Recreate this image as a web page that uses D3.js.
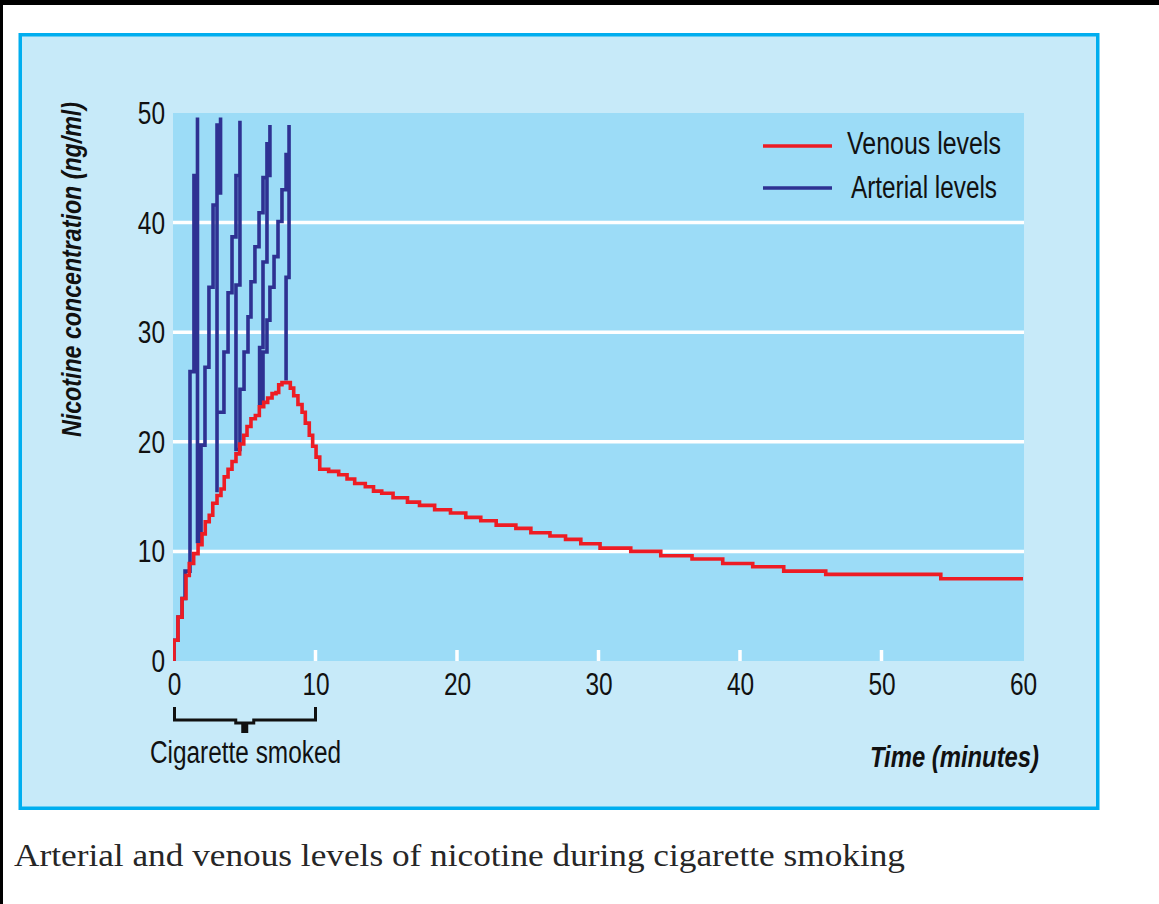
<!DOCTYPE html>
<html>
<head>
<meta charset="utf-8">
<script src="https://cdn.jsdelivr.net/npm/d3@7"></script>
<style>
  html, body { margin: 0; padding: 0; background: #ffffff; }
  svg { display: block; }
  .narrow { font-family: "Liberation Sans Narrow", "Arial Narrow", "Liberation Sans", Arial, sans-serif; }
</style>
</head>
<body>
<svg id="chart" width="1159" height="904"></svg>
<script>
// Venous nicotine level (ng/ml); each level holds from its start time (minutes) to the next one
const venousTime = [0, 0, 0.28, 0.57, 0.85, 1.08, 1.39, 1.70, 1.98, 2.21, 2.49, 2.74, 3.04, 3.32, 3.55, 3.82, 4.10, 4.38, 4.64, 4.93, 5.16, 5.44, 5.75, 6.03, 6.34, 6.62, 6.93, 7.21, 7.40, 7.63, 8.22, 8.46, 8.76, 9.05, 9.28, 9.56, 9.80, 10.04, 10.30, 10.93, 11.64, 12.23, 12.77, 13.52, 14.10, 14.68, 15.48, 16.50, 17.35, 18.42, 19.54, 20.62, 21.68, 22.77, 24.16, 25.22, 26.57, 27.67, 28.75, 30.11, 32.28, 34.40, 36.61, 38.78, 40.90, 43.09, 46.06, 54.19, 60];
const venousConc = [0, 1.9, 4.0, 5.7, 7.8, 8.9, 9.8, 10.6, 11.6, 12.7, 13.3, 14.4, 15.1, 15.7, 16.8, 17.5, 18.2, 18.9, 19.8, 20.6, 21.4, 22.1, 22.4, 23.2, 23.6, 24.0, 24.4, 24.5, 25.2, 25.4, 24.9, 24.2, 23.4, 22.7, 21.7, 20.6, 19.6, 18.6, 17.5, 17.3, 17.0, 16.6, 16.2, 15.9, 15.5, 15.3, 14.9, 14.5, 14.2, 13.8, 13.5, 13.1, 12.8, 12.4, 12.1, 11.7, 11.4, 11.1, 10.7, 10.3, 10.0, 9.6, 9.3, 8.9, 8.6, 8.2, 7.9, 7.5, 7.5];

// Arterial nicotine level (ng/ml): the trace's corner points in drawing order, one spike per puff
const arterialTime = [0, 0, 0.28, 0.28, 0.57, 0.57, 0.78, 0.78, 1.13, 1.13, 1.41, 1.41, 1.66, 1.66, 1.66, 1.91, 1.91, 2.19, 2.19, 2.47, 2.47, 2.76, 2.76, 3.04, 3.04, 3.29, 3.29, 3.29, 3.04, 3.04, 3.04, 3.53, 3.53, 3.82, 3.82, 4.10, 4.10, 4.38, 4.38, 4.66, 4.66, 4.66, 4.38, 4.38, 4.66, 4.66, 4.95, 4.95, 5.23, 5.23, 5.44, 5.44, 5.72, 5.72, 6.01, 6.01, 6.29, 6.29, 6.57, 6.57, 6.78, 6.78, 6.78, 6.57, 6.57, 6.29, 6.29, 6.05, 6.05, 6.29, 6.29, 6.57, 6.57, 6.78, 6.78, 7.07, 7.07, 7.35, 7.35, 7.63, 7.63, 7.92, 7.92, 8.13, 8.13, 8.13, 7.92, 7.92];
const arterialConc = [0, 1.9, 1.9, 4.0, 4.0, 5.7, 5.7, 8.2, 8.2, 26.4, 26.4, 44.3, 44.3, 49.6, 10.9, 10.9, 19.7, 19.7, 26.8, 26.8, 34.1, 34.1, 41.6, 41.6, 48.9, 48.9, 49.6, 42.7, 42.7, 15.4, 22.7, 22.7, 28.2, 28.2, 33.6, 33.6, 38.7, 38.7, 44.3, 44.3, 49.3, 34.3, 34.3, 19.3, 19.3, 24.8, 24.8, 28.2, 28.2, 31.4, 31.4, 34.6, 34.6, 37.8, 37.8, 40.9, 40.9, 44.1, 44.1, 47.2, 47.2, 48.9, 44.3, 44.3, 36.4, 36.4, 28.6, 28.6, 23.5, 23.5, 28.2, 28.2, 31.1, 31.1, 34.1, 34.1, 36.9, 36.9, 40.1, 40.1, 43.0, 43.0, 46.2, 46.2, 48.9, 35.0, 35.0, 25.6];

const xTickValues = [0, 10, 20, 30, 40, 50, 60];
const yTickValues = [0, 10, 20, 30, 40, 50];
const gridValues = [10, 20, 30, 40];
const innerTickValues = [10, 20, 30, 40, 50];

const seriesNames = ["Venous levels", "Arterial levels"];
const seriesColors = ["#ed1c24", "#2e3192"];

const yTitle = "Nicotine concentration (ng/ml)";
const xTitle = "Time (minutes)";
const spanLabel = "Cigarette smoked";
const caption = "Arterial and venous levels of nicotine during cigarette smoking";

const venous = venousTime.map((t, i) => ({ t, v: venousConc[i] }));
const arterial = arterialTime.map((t, i) => ({ t, v: arterialConc[i] }));

const svg = d3.select("#chart");

// page edges and the framed panel
svg.append("rect").attr("x", 0).attr("y", 0).attr("width", 1159).attr("height", 5).attr("fill", "#000");
svg.append("rect").attr("x", 0).attr("y", 0).attr("width", 3).attr("height", 904).attr("fill", "#000");
svg.append("rect")
  .attr("x", 20.25).attr("y", 34.75).attr("width", 1077.5).attr("height", 773.5)
  .attr("fill", "#c7eaf9").attr("stroke", "#00aeef").attr("stroke-width", 3.5);

const x = d3.scaleLinear().domain([0, 60]).range([174, 1023]);
const y = d3.scaleLinear().domain([0, 50]).range([661, 113]);

// plotting field
svg.append("rect")
  .attr("x", x(0) - 1).attr("y", y(50))
  .attr("width", x(60) - x(0) + 2).attr("height", y(0) - y(50))
  .attr("fill", "#9cdcf7");

svg.append("clipPath").attr("id", "field")
  .append("rect")
  .attr("x", x(0) - 1).attr("y", y(50))
  .attr("width", x(60) - x(0) + 2).attr("height", y(0) - y(50));

// white grid lines
svg.append("g").selectAll("line").data(gridValues).join("line")
  .attr("x1", x(0) - 1).attr("x2", x(60) + 1)
  .attr("y1", d => y(d)).attr("y2", d => y(d))
  .attr("stroke", "#ffffff").attr("stroke-width", 3.5);

// short white ticks standing on the time axis
svg.append("g").selectAll("line").data(innerTickValues).join("line")
  .attr("x1", d => x(d)).attr("x2", d => x(d))
  .attr("y1", y(0)).attr("y2", y(0) - 11)
  .attr("stroke", "#ffffff").attr("stroke-width", 3.5);

const plot = svg.append("g").attr("clip-path", "url(#field)");

const linear = d3.line().x(d => x(d.t)).y(d => y(d.v));
const stepped = d3.line().x(d => x(d.t)).y(d => y(d.v)).curve(d3.curveStepAfter);

plot.append("path").datum(arterial)
  .attr("d", linear)
  .attr("fill", "none").attr("stroke", seriesColors[1]).attr("stroke-width", 3.6)
  .attr("stroke-linejoin", "miter").attr("stroke-miterlimit", 4);

plot.append("path").datum(venous)
  .attr("d", stepped)
  .attr("fill", "none").attr("stroke", seriesColors[0]).attr("stroke-width", 3.6)
  .attr("stroke-linejoin", "miter");

// condensed tick numerals: fixed advance per digit
function condense(sel) {
  sel.attr("class", "narrow").attr("font-size", 31).attr("fill", "#111")
    .attr("textLength", function () { return this.textContent.length * 13.6; })
    .attr("lengthAdjust", "spacingAndGlyphs");
}

// axes
const yAxis = svg.append("g")
  .attr("transform", `translate(${x(0) - 1},0)`)
  .call(d3.axisLeft(y).tickValues(yTickValues).tickSize(0).tickPadding(8));
yAxis.select(".domain").remove();
yAxis.attr("font-family", null);
yAxis.selectAll("text").call(condense).attr("dy", 10.5);

const xAxis = svg.append("g")
  .attr("transform", `translate(0,${y(0)})`)
  .call(d3.axisBottom(x).tickValues(xTickValues).tickSize(0).tickPadding(0));
xAxis.select(".domain").remove();
xAxis.attr("font-family", null);
xAxis.selectAll("text").call(condense).attr("y", 34).attr("dy", 0);

// axis titles
svg.append("text")
  .attr("class", "narrow")
  .attr("transform", `translate(81,${(102 + 437) / 2}) rotate(-90)`)
  .attr("text-anchor", "middle")
  .attr("font-size", 28).attr("font-weight", "bold").attr("font-style", "italic")
  .attr("fill", "#111")
  .attr("textLength", 335).attr("lengthAdjust", "spacingAndGlyphs")
  .text(yTitle);

svg.append("text")
  .attr("class", "narrow")
  .attr("x", 870).attr("y", 767)
  .attr("font-size", 30).attr("font-weight", "bold").attr("font-style", "italic")
  .attr("fill", "#111")
  .attr("textLength", 169).attr("lengthAdjust", "spacingAndGlyphs")
  .text(xTitle);

// brace under the smoking period
const bx0 = x(0) + 0.5, bx1 = x(10), bxm = x(5);
svg.append("path")
  .attr("d", `M${bx0},707 V720 H${bxm - 9} V723 H${bxm + 9} V720 H${bx1} V707`)
  .attr("fill", "none").attr("stroke", "#111").attr("stroke-width", 3);
svg.append("rect")
  .attr("x", bxm - 3.5).attr("y", 722).attr("width", 7).attr("height", 11)
  .attr("fill", "#111");

svg.append("text")
  .attr("class", "narrow")
  .attr("x", 150).attr("y", 763)
  .attr("font-size", 31).attr("fill", "#111")
  .attr("textLength", 191).attr("lengthAdjust", "spacingAndGlyphs")
  .text(spanLabel);

// legend
const legendRows = [
  { name: seriesNames[0], color: seriesColors[0], ly: 146, tx: 847, base: 154, len: 154 },
  { name: seriesNames[1], color: seriesColors[1], ly: 188, tx: 851, base: 198, len: 146 }
];
const legend = svg.append("g");
legend.selectAll("line").data(legendRows).join("line")
  .attr("x1", 763).attr("x2", 832)
  .attr("y1", d => d.ly).attr("y2", d => d.ly)
  .attr("stroke", d => d.color).attr("stroke-width", 3.6);
legend.selectAll("text").data(legendRows).join("text")
  .attr("class", "narrow")
  .attr("x", d => d.tx).attr("y", d => d.base)
  .attr("font-size", 31).attr("fill", "#111")
  .attr("textLength", d => d.len).attr("lengthAdjust", "spacingAndGlyphs")
  .text(d => d.name);

// caption below the panel
svg.append("text")
  .attr("x", 14).attr("y", 866)
  .attr("font-family", "'Liberation Serif', 'Times New Roman', serif")
  .attr("font-size", 31).attr("fill", "#262626")
  .attr("textLength", 891).attr("lengthAdjust", "spacingAndGlyphs")
  .text(caption);
</script>
</body>
</html>
